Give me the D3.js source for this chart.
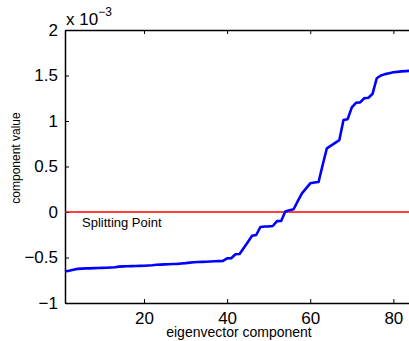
<!DOCTYPE html>
<html>
<head>
<meta charset="utf-8">
<script src="https://cdn.jsdelivr.net/npm/d3@7"></script>
<style>
  html, body { margin: 0; padding: 0; background: #fff; }
  svg { display: block; font-family: "Liberation Sans", Arial, Helvetica, sans-serif; }
</style>
</head>
<body>
<svg id="chart" width="409" height="341"></svg>
<script>
// Eigenvector entries (in units of 1e-3), indexed 1..84, sorted ascending
const componentIndex = d3.range(1, 85);
const componentValues = [
  -0.655, -0.645, -0.635, -0.625, -0.622, -0.620, -0.619, -0.617, -0.616, -0.614,
  -0.612, -0.610, -0.607, -0.600, -0.598, -0.596, -0.595, -0.594, -0.592, -0.590,
  -0.588, -0.585, -0.580, -0.578, -0.576, -0.574, -0.572, -0.570, -0.566, -0.562,
  -0.556, -0.552, -0.550, -0.548, -0.546, -0.544, -0.542, -0.540, -0.538, -0.510,
  -0.508, -0.465, -0.462, -0.395, -0.330, -0.262, -0.253, -0.165, -0.160, -0.158,
  -0.154, -0.100, -0.098, 0.005, 0.020, 0.030, 0.120, 0.205, 0.260, 0.315,
  0.325, 0.330, 0.520, 0.700, 0.730, 0.760, 0.790, 1.010, 1.020, 1.150,
  1.200, 1.205, 1.250, 1.255, 1.300, 1.470, 1.500, 1.515, 1.525, 1.535,
  1.540, 1.545, 1.548, 1.552
];
const splitValue = 0;
const xTicks = [20, 40, 60, 80];
const yTicks = [-1, -0.5, 0, 0.5, 1, 1.5, 2];

const svg = d3.select("#chart");
const plotLeft = 65, plotTop = 30, plotRight = 410, plotBottom = 303;

const x = d3.scaleLinear().domain([1, 84]).range([plotLeft, plotRight]);
const y = d3.scaleLinear().domain([-1, 2]).range([plotBottom, plotTop]);

const fmt = v => String(v).replace("-", "\u2212");

// Axes box (left, bottom, top); ticks point inward
const bottomAxis = d3.axisBottom(x).tickValues(xTicks).tickSizeInner(-4).tickSizeOuter(0).tickPadding(9).tickFormat(fmt);
const topAxis = d3.axisTop(x).tickValues(xTicks).tickSizeInner(-4).tickSizeOuter(0).tickFormat("");
const leftAxis = d3.axisLeft(y).tickValues(yTicks).tickSizeInner(-4).tickSizeOuter(0).tickPadding(7).tickFormat(fmt);

function styleAxis(g) {
  g.select(".domain").attr("stroke", "#000").attr("stroke-width", 1.5);
  g.selectAll(".tick line").attr("stroke", "#000").attr("stroke-width", 1);
  g.selectAll(".tick text").attr("fill", "#000").style("font-size", "17px")
    .style("font-family", "'Liberation Sans', Arial, sans-serif");
}

svg.append("g").attr("transform", `translate(0,${plotBottom})`).call(bottomAxis).call(styleAxis);
svg.append("g").attr("transform", `translate(0,${plotTop})`).call(topAxis).call(styleAxis);
svg.append("g").attr("transform", `translate(${plotLeft},0)`).call(leftAxis).call(styleAxis);

// Splitting threshold
svg.append("line")
  .attr("x1", x(1)).attr("x2", x(84))
  .attr("y1", y(splitValue)).attr("y2", y(splitValue))
  .attr("stroke", "#ff0000").attr("stroke-width", 1.6);

svg.append("text")
  .attr("x", 82).attr("y", y(splitValue) + 15)
  .style("font-size", "13px").attr("fill", "#000")
  .text("Splitting Point");

// Sorted eigenvector curve
const line = d3.line()
  .x((d, i) => x(componentIndex[i]))
  .y(d => y(d));

svg.append("path")
  .datum(componentValues)
  .attr("d", line)
  .attr("fill", "none")
  .attr("stroke", "#0000ff")
  .attr("stroke-width", 2.6)
  .attr("stroke-linejoin", "round");

// Exponent label
const expo = svg.append("text").attr("x", 66).attr("y", 25).attr("fill", "#000").style("font-size", "17px");
expo.append("tspan").text("x 10");
expo.append("tspan").attr("dy", -9).style("font-size", "12px").text("\u22123");

// Axis titles
svg.append("text")
  .attr("x", 239).attr("y", 337)
  .attr("text-anchor", "middle")
  .style("font-size", "14px").attr("fill", "#000")
  .text("eigenvector component");

svg.append("text")
  .attr("transform", "translate(20,158) rotate(-90)")
  .attr("text-anchor", "middle")
  .style("font-size", "12px").attr("fill", "#000")
  .text("component value");
</script>
</body>
</html>
